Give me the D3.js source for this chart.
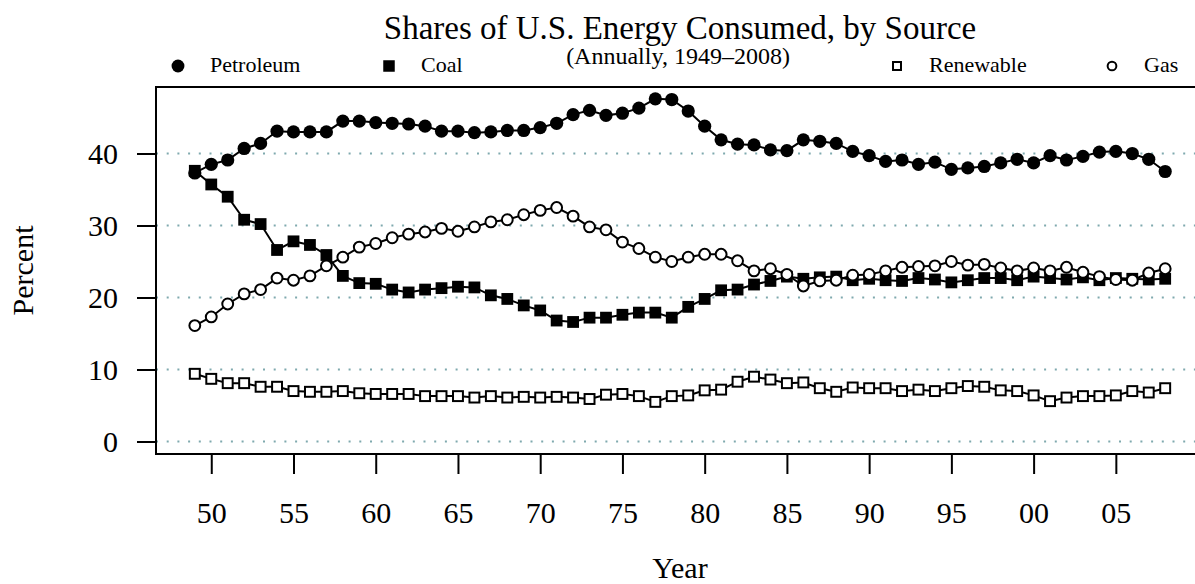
<!DOCTYPE html>
<html>
<head>
<meta charset="utf-8">
<script src="https://cdn.jsdelivr.net/npm/d3@7"></script>
<style>
  body { margin: 0; background: #fff; }
  text { font-family: "Liberation Serif", "Times New Roman", serif; fill: #000; }
</style>
</head>
<body>
<div id="chart"></div>
<script>
var years = [1949, 1950, 1951, 1952, 1953, 1954, 1955, 1956, 1957, 1958,
             1959, 1960, 1961, 1962, 1963, 1964, 1965, 1966, 1967, 1968,
             1969, 1970, 1971, 1972, 1973, 1974, 1975, 1976, 1977, 1978,
             1979, 1980, 1981, 1982, 1983, 1984, 1985, 1986, 1987, 1988,
             1989, 1990, 1991, 1992, 1993, 1994, 1995, 1996, 1997, 1998,
             1999, 2000, 2001, 2002, 2003, 2004, 2005, 2006, 2007, 2008];

var petroleum = [37.3, 38.5, 39.1, 40.7, 41.4, 43.1, 43.0, 43.0, 43.0, 44.5,
                 44.5, 44.3, 44.2, 44.1, 43.8, 43.1, 43.1, 42.9, 43.0, 43.2,
                 43.2, 43.6, 44.2, 45.4, 46.0, 45.3, 45.6, 46.3, 47.6, 47.5,
                 45.9, 43.8, 41.9, 41.3, 41.2, 40.5, 40.4, 41.9, 41.7, 41.4,
                 40.3, 39.7, 38.9, 39.1, 38.5, 38.8, 37.8, 38.0, 38.2, 38.7,
                 39.2, 38.7, 39.7, 39.1, 39.6, 40.2, 40.3, 40.0, 39.2, 37.5];

var coal = [37.6, 35.7, 34.0, 30.8, 30.2, 26.6, 27.8, 27.3, 25.9, 23.0,
            22.0, 21.9, 21.1, 20.7, 21.1, 21.3, 21.5, 21.4, 20.3, 19.8,
            18.9, 18.2, 16.8, 16.6, 17.2, 17.2, 17.6, 17.9, 17.9, 17.2,
            18.7, 19.8, 21.0, 21.1, 21.8, 22.3, 22.9, 22.6, 22.8, 22.9,
            22.4, 22.6, 22.4, 22.3, 22.7, 22.5, 22.1, 22.4, 22.7, 22.7,
            22.4, 22.9, 22.7, 22.5, 22.8, 22.4, 22.7, 22.6, 22.5, 22.6];

var renewable = [9.4, 8.7, 8.1, 8.1, 7.6, 7.6, 7.0, 6.9, 6.9, 7.0,
                 6.7, 6.6, 6.6, 6.6, 6.3, 6.3, 6.3, 6.1, 6.3, 6.1,
                 6.2, 6.1, 6.2, 6.1, 5.9, 6.5, 6.6, 6.3, 5.5, 6.3,
                 6.4, 7.1, 7.2, 8.3, 9.0, 8.6, 8.1, 8.2, 7.4, 6.9,
                 7.5, 7.4, 7.4, 7.0, 7.2, 7.0, 7.4, 7.7, 7.6, 7.1,
                 7.0, 6.4, 5.6, 6.1, 6.3, 6.3, 6.4, 7.0, 6.8, 7.4];

var gas = [16.1, 17.3, 19.1, 20.5, 21.1, 22.7, 22.4, 23.0, 24.4, 25.6,
           27.0, 27.5, 28.3, 28.8, 29.1, 29.6, 29.2, 29.8, 30.5, 30.8,
           31.5, 32.1, 32.5, 31.3, 29.8, 29.4, 27.7, 26.8, 25.6, 25.0,
           25.6, 26.0, 26.0, 25.1, 23.7, 24.0, 23.2, 21.6, 22.3, 22.4,
           23.1, 23.2, 23.7, 24.2, 24.3, 24.4, 25.0, 24.5, 24.6, 24.1,
           23.7, 24.1, 23.7, 24.2, 23.5, 22.9, 22.5, 22.4, 23.4, 24.0];

var yTicks = [0, 10, 20, 30, 40];
var xTicks = [1950, 1955, 1960, 1965, 1970, 1975, 1980, 1985, 1990, 1995, 2000, 2005];
var xTickLabels = ["50", "55", "60", "65", "70", "75", "80", "85", "90", "95", "00", "05"];

var series = [
  { "name": "Petroleum", "values": petroleum, "shape": "circle", "filled": true,  "lx": 178 },
  { "name": "Coal",      "values": coal,      "shape": "square", "filled": true,  "lx": 389 },
  { "name": "Renewable", "values": renewable, "shape": "square", "filled": false, "lx": 897 },
  { "name": "Gas",       "values": gas,       "shape": "circle", "filled": false, "lx": 1112 }
];

var width = 1195, height = 584;
var plotLeft = 156, plotRight = 1204, plotTop = 87, plotBottom = 454;

var svg = d3.select("#chart").append("svg")
            .attr("width", width)
            .attr("height", height);

// R style: 4% padding on each side of the data range
var x = d3.scaleLinear().domain([1946.64, 2010.36]).range([plotLeft, plotRight]);
var y = d3.scaleLinear().domain([-1.74, 49.24]).range([plotBottom, plotTop]);

// dotted grid
svg.append("g").selectAll("line")
   .data(yTicks)
   .enter().append("line")
   .attr("x1", plotLeft).attr("x2", plotRight)
   .attr("y1", function (d) { return y(d); })
   .attr("y2", function (d) { return y(d); })
   .style("stroke", "#7fa9ae")
   .style("stroke-width", 2)
   .style("stroke-dasharray", "2,8.7");

// y axis
var yAxis = svg.append("g")
               .attr("transform", "translate(" + plotLeft + ",0)")
               .call(d3.axisLeft(y).tickValues(yTicks).tickSize(19).tickPadding(19));
yAxis.select(".domain").remove();
yAxis.selectAll("line").style("stroke", "#000").style("stroke-width", 2);
yAxis.selectAll("text").style("font-size", "30px").attr("font-family", null);

// x axis
var xAxis = svg.append("g")
               .attr("transform", "translate(0," + (plotBottom + 1) + ")")
               .call(d3.axisBottom(x).tickValues(xTicks).tickSize(19).tickPadding(28)
                       .tickFormat(function (d, i) { return xTickLabels[i]; }));
xAxis.select(".domain").remove();
xAxis.selectAll("line").style("stroke", "#000").style("stroke-width", 2);
xAxis.selectAll("text").style("font-size", "30px").attr("font-family", null);

// plot box
svg.append("rect")
   .attr("x", plotLeft).attr("y", plotTop)
   .attr("width", plotRight - plotLeft).attr("height", plotBottom - plotTop)
   .style("fill", "none")
   .style("stroke", "#000")
   .style("stroke-width", 2);

var line = d3.line()
             .x(function (d, i) { return x(years[i]); })
             .y(function (d) { return y(d); });

function drawMark(sel, s, size) {
  if (s.shape == "circle") {
    sel.append("circle").attr("r", s.filled ? size * 0.56 : size * 0.46);
  } else {
    var h = s.filled ? size * 0.5 : size * 0.42;
    sel.append("rect").attr("x", -h).attr("y", -h).attr("width", 2 * h).attr("height", 2 * h);
  }
  sel.selectAll("circle, rect")
     .style("fill", s.filled ? "#000" : "#fff")
     .style("stroke", "#000")
     .style("stroke-width", s.filled ? 0 : 2);
}

series.forEach(function (s) {
  svg.append("path")
     .datum(s.values)
     .attr("d", line)
     .style("fill", "none")
     .style("stroke", "#000")
     .style("stroke-width", 2);

  svg.append("g").selectAll("g")
     .data(s.values)
     .enter().append("g")
     .attr("transform", function (d, i) { return "translate(" + x(years[i]) + "," + y(d) + ")"; })
     .each(function () { drawMark(d3.select(this), s, 11.8); });
});

// legend
var legend = svg.append("g").selectAll("g")
                .data(series)
                .enter().append("g")
                .attr("transform", function (d) { return "translate(" + d.lx + ",66)"; });
legend.each(function (d) { drawMark(d3.select(this), d, d.filled ? 11.5 : 9.5); });
legend.append("text")
      .attr("x", 32).attr("y", 6)
      .style("font-size", "22px")
      .text(function (d) { return d.name; });

// titles
svg.append("text")
   .attr("x", 680).attr("y", 39)
   .attr("text-anchor", "middle")
   .style("font-size", "33px")
   .text("Shares of U.S. Energy Consumed, by Source");

svg.append("text")
   .attr("x", 678).attr("y", 64)
   .attr("text-anchor", "middle")
   .style("font-size", "24px")
   .text("(Annually, 1949\u20132008)");

svg.append("text")
   .attr("x", 680).attr("y", 578)
   .attr("text-anchor", "middle")
   .style("font-size", "30px")
   .text("Year");

svg.append("text")
   .attr("transform", "translate(33," + ((plotTop + plotBottom) / 2) + ") rotate(-90)")
   .attr("text-anchor", "middle")
   .style("font-size", "30px")
   .text("Percent");
</script>
</body>
</html>
